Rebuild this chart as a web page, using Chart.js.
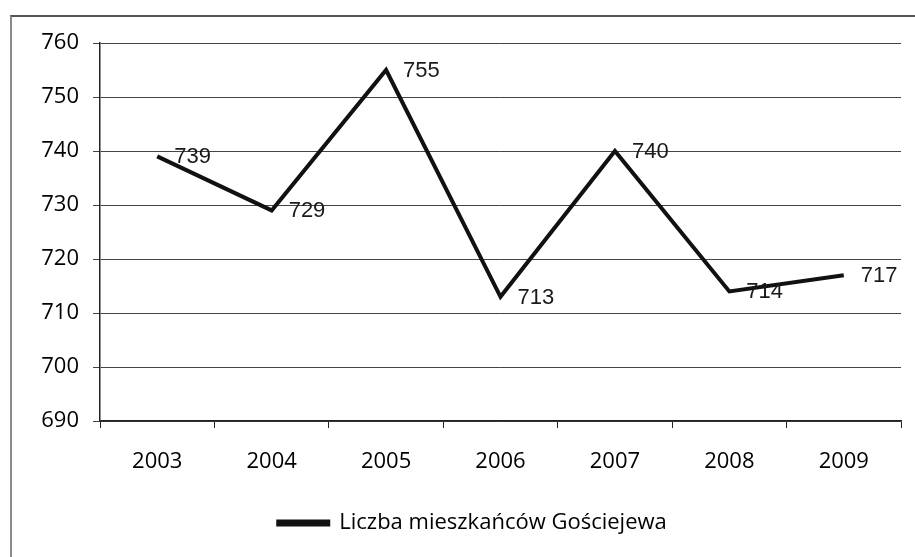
<!DOCTYPE html>
<html>
<head>
<meta charset="utf-8">
<script src="https://cdn.jsdelivr.net/npm/chart.js@4.4.1/dist/chart.umd.min.js"></script>
<style>
    html, body { margin: 0; padding: 0; background: #fff; }
    #wrap { position: relative; width: 915px; height: 557px; overflow: hidden; }
    #frame {
        position: absolute; left: 10px; top: 15px;
        width: 940px; height: 600px;
        border-left: 2px solid #8a8a8a; border-top: 2px solid #555;
    }
    canvas { position: absolute; left: 0; top: 0; }
</style>
</head>
<body>
<div id="wrap">
    <div id="frame"></div>
    <canvas id="chart" width="915" height="557"></canvas>
</div>
<script>
    // Data
    const years = ['2003', '2004', '2005', '2006', '2007', '2008', '2009'];
    const residents = [739, 729, 755, 713, 740, 714, 717];
    const seriesName = 'Liczba mieszkańców Gościejewa';
    const yMin = 690;
    const yMax = 760;
    const yStep = 10;

    const tickFont = { family: '"Open Sans", sans-serif', size: 22 };

    // Excel style "right" data labels, placed from the point positions
    const valueLabels = {
        id: 'valueLabels',
        afterDatasetsDraw(chart) {
            const ctx = chart.ctx;
            const meta = chart.getDatasetMeta(0);
            ctx.save();
            ctx.font = '22px "Liberation Sans", sans-serif';
            ctx.fillStyle = '#1a1a1a';
            ctx.textAlign = 'left';
            ctx.textBaseline = 'middle';
            meta.data.forEach((pt, i) => {
                ctx.fillText(String(residents[i]), pt.x + 17, pt.y + 1);
            });
            ctx.restore();
        }
    };

    // legend in the original sits a little right of centre
    const legendShift = {
        id: 'legendShift',
        afterLayout(chart) {
            chart.legend.left += 22;
            chart.legend.right += 22;
        }
    };

    new Chart(document.getElementById('chart').getContext('2d'), {
        type: 'line',
        data: {
            labels: years,
            datasets: [{
                label: seriesName,
                data: residents,
                borderColor: '#111',
                backgroundColor: '#111',
                borderWidth: 4,
                pointRadius: 0,
                tension: 0
            }]
        },
        options: {
            responsive: false,
            animation: false,
            layout: {
                padding: { top: 43, left: 0, right: 14, bottom: 13 }
            },
            plugins: {
                tooltip: { enabled: false },
                legend: {
                    position: 'bottom',
                    labels: {
                        boxWidth: 50,
                        boxHeight: 3,
                        padding: 10,
                        color: '#000',
                        font: tickFont
                    }
                }
            },
            scales: {
                x: {
                    offset: true,
                    afterFit: (scale) => { scale.height = 81; },
                    border: { color: '#222', width: 1.5 },
                    grid: {
                        offset: true,
                        drawOnChartArea: false,
                        color: '#222',
                        tickLength: 7
                    },
                    ticks: {
                        color: '#000',
                        padding: 21,
                        font: tickFont
                    }
                },
                y: {
                    min: yMin,
                    max: yMax,
                    afterFit: (scale) => { scale.width = 100; },
                    border: { color: '#222', width: 1.5 },
                    grid: {
                        color: '#444',
                        lineWidth: 1,
                        tickLength: 7
                    },
                    ticks: {
                        stepSize: yStep,
                        color: '#000',
                        padding: 14,
                        font: tickFont
                    }
                }
            }
        },
        plugins: [valueLabels, legendShift]
    });
</script>
</body>
</html>
